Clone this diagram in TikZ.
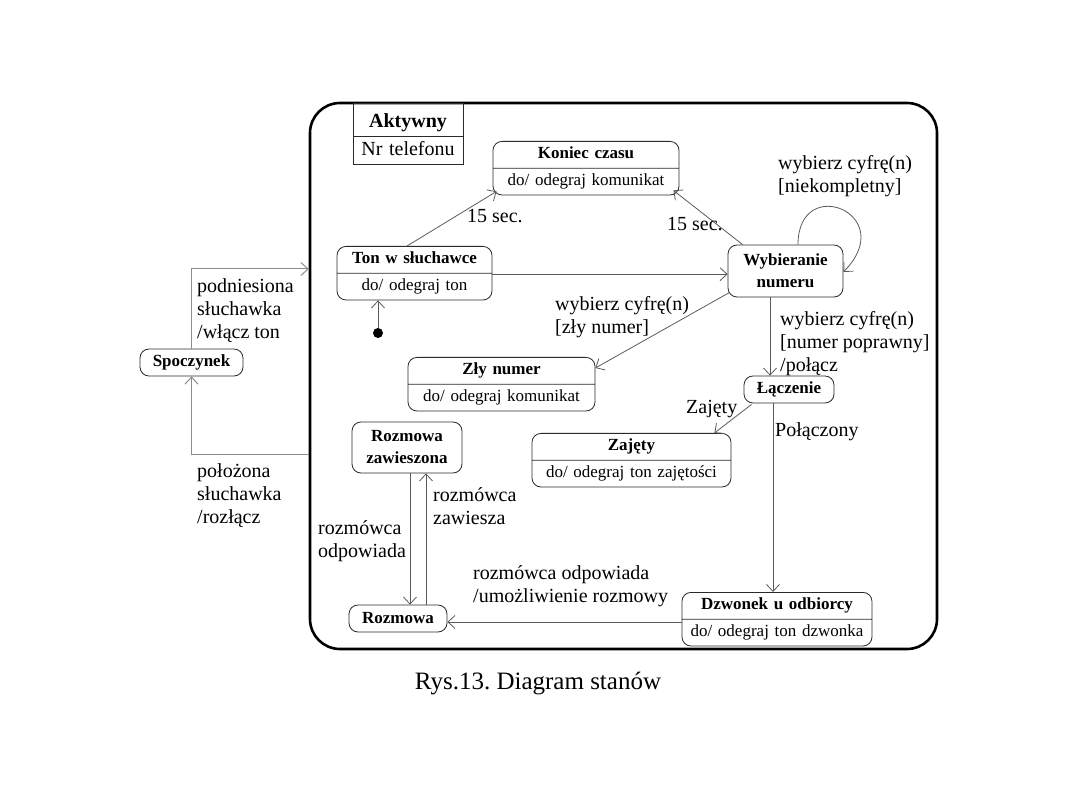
\documentclass[tikz,border=0pt]{standalone}
\usepackage{fontspec}
\setmainfont{Liberation Serif}
\usetikzlibrary{arrows.meta,shapes.multipart,calc}
\frenchspacing
\definecolor{conncol}{HTML}{5A5A5A}
\definecolor{lightconn}{HTML}{8C8C8C}
\definecolor{edgecol}{HTML}{2A2A2A}
\tikzset{
  stfont/.style={font=\fontsize{17}{20.4}\selectfont},
  splitstate/.style={rectangle split, rectangle split parts=2, draw=edgecol, line width=0.8pt,
     rounded corners=9pt, inner xsep=0pt, inner ysep=2.8pt, align=center, stfont, anchor=north},
  simplestate/.style={rectangle, draw=edgecol, line width=0.8pt, rounded corners=9pt,
     inner sep=0pt, align=center, font=\fontsize{17}{22}\selectfont\bfseries},
  conn/.style={draw=conncol, line width=0.8pt, -{Straight Barb[length=7pt,width=13pt]}},
  lconn/.style={draw=lightconn, line width=1pt, -{Straight Barb[length=7pt,width=13pt]}},
  lbl/.style={font=\fontsize{20}{23}\selectfont, align=left, inner sep=0pt, anchor=base west},
}
\begin{document}
\begin{tikzpicture}[x=1pt,y=-1pt]
\useasboundingbox (0,0) rectangle (1080,810);
% outer composite state
\node[draw=black, line width=2.6pt, rounded corners=30pt, minimum width=627pt, minimum height=546pt, inner sep=0pt] (akt) at (623.5,376) {};
\node[rectangle split, rectangle split parts=2, draw=edgecol, line width=0.8pt, inner xsep=0pt, inner ysep=2.5pt,
      text width=110pt, align=center, anchor=north, font=\fontsize{20}{22}\selectfont] (aktname) at (408,103)
  {\rule{0pt}{21pt}\textbf{Aktywny}\strut\nodepart{two}\centering Nr telefonu\strut};
% states
\node[splitstate, text width=186pt] (koniec) at (586,141) {\textbf{Koniec czasu}\strut\nodepart{two}\centering do/ odegraj komunikat\strut};
\node[splitstate, text width=155pt] (ton) at (414.5,246) {\textbf{Ton w słuchawce}\strut\nodepart{two}\centering do/ odegraj ton\strut};
\node[simplestate, minimum width=115pt, minimum height=52pt] (wyb) at (785.5,271) {Wybieranie\\numeru};
\node[splitstate, text width=187pt] (zly) at (501.5,357) {\textbf{Zły numer}\strut\nodepart{two}\centering do/ odegraj komunikat\strut};
\node[simplestate, minimum width=90pt, minimum height=27pt] (lacz) at (789,389.5) {Łączenie};
\node[splitstate, text width=199pt] (zaj) at (631.5,433) {\textbf{Zajęty}\strut\nodepart{two}\centering do/ odegraj ton zajętości\strut};
\node[splitstate, text width=190pt] (dzw) at (777,592) {\textbf{Dzwonek u odbiorcy}\strut\nodepart{two}\centering do/ odegraj ton dzwonka\strut};
\node[simplestate, minimum width=98pt, minimum height=27pt] (roz) at (398,618.5) {Rozmowa};
\node[simplestate, minimum width=110pt, minimum height=51pt] (zaw) at (407,447.5) {Rozmowa\\zawieszona};
\node[simplestate, minimum width=103pt, minimum height=27pt] (spo) at (191.5,362.5) {Spoczynek};
\node[circle, fill=black, inner sep=0pt, minimum size=10pt] (init) at (378,333) {};
% connectors
\draw[conn] (init) -- (init |- ton.south);
\draw[conn] ([xshift=-7.5pt]ton.north) -- ([xshift=4pt,yshift=4pt]koniec.south west);
\draw[conn] ([xshift=15pt]wyb.north west) -- ([xshift=-6pt,yshift=5pt]koniec.south east);
\draw[conn] ([yshift=-1pt]ton.east) -- ([yshift=-1pt]ton.east -| wyb.west);
\draw[conn] ([xshift=12.5pt]wyb.north) .. controls +(0,-72) and +(57,-58) .. ([yshift=-1pt]wyb.east);
\draw[conn] ([xshift=2pt,yshift=5pt]wyb.south west) -- ([yshift=-11pt]zly.north east);
\draw[conn] ([xshift=-15.5pt]wyb.south) -- ([xshift=-15.5pt]wyb.south |- lacz.north);
\draw[conn] ([xshift=8pt,yshift=-1pt]lacz.south west) -- ([xshift=-17pt]zaj.north east);
\draw[conn] ([xshift=-16pt]lacz.south) -- ([xshift=-16pt]lacz.south |- dzw.north);
\draw[conn] ([yshift=-3.5pt]roz.east -| dzw.west) -- ([yshift=-3.5pt]roz.east);
\draw[conn] ([xshift=3pt]zaw.south) -- ([xshift=3pt]zaw.south |- roz.north);
\draw[conn] ([xshift=19pt]zaw.south |- roz.north) -- ([xshift=19pt]zaw.south);
\draw[lconn] (spo.north) |- ([yshift=107pt]akt.west);
\draw[lconn] ([yshift=-79pt]akt.west) -| (spo.south);
% labels (anchor = baseline of last line)
\node[lbl] (t15a) at (467,223) {15 sec.};
\node[lbl] (t15b) at (667,231) {15 sec.};
\node[lbl] (tloop) at (778,193) {wybierz cyfrę(n)\\{[niekompletny]}};
\node[lbl] (tzly) at (555,334) {wybierz cyfrę(n)\\{[zły numer]}};
\node[lbl] (tpop) at (780,372) {wybierz cyfrę(n)\\{[numer poprawny]}\\/połącz};
\node[lbl] (tzaj) at (686,414) {Zajęty};
\node[lbl] (tpol) at (775,437) {Połączony};
\node[lbl] (todp) at (473,602) {rozmówca odpowiada\\/umożliwienie rozmowy};
\node[lbl] (todp2) at (318,557) {rozmówca\\odpowiada};
\node[lbl] (tzaw) at (433,524) {rozmówca\\zawiesza};
\node[lbl] (tpod) at (197,339) {podniesiona\\słuchawka\\/włącz ton};
\node[lbl] (tpol2) at (197,523) {położona\\słuchawka\\/rozłącz};
\node[font=\fontsize{25}{30}\selectfont, anchor=base, inner sep=0pt] (cap) at (538,689) {Rys.13. Diagram stanów};
\end{tikzpicture}
\end{document}
